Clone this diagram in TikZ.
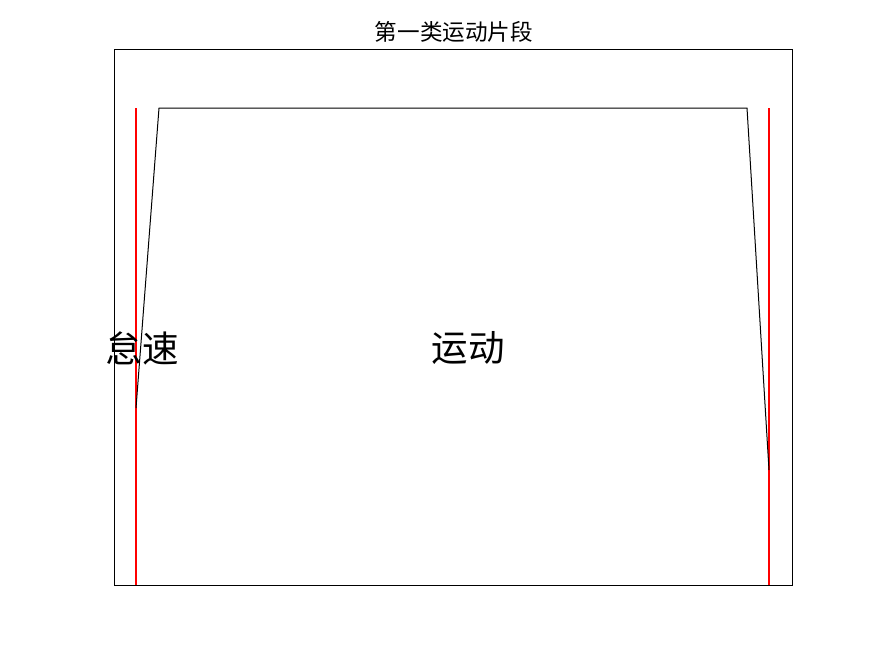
\documentclass[tikz,border=0pt]{standalone}
\usepackage{fontspec}
\newfontfamily\cjk{Noto Sans CJK SC}
\begin{document}
\begin{tikzpicture}[x=1pt,y=-1pt,
  redline/.style={draw=red,line width=2pt},
  blackline/.style={draw=black,line width=1pt},
  lbl/.style={inner sep=0pt,font=\cjk\fontsize{36.5}{37}\selectfont},
  ttl/.style={inner sep=0pt,font=\cjk\fontsize{22.6}{23}\selectfont}]
\useasboundingbox (0,0) rectangle (875,656);
\draw[line width=0.9pt] (114,49) rectangle (792,585);
\node[ttl] (title) at (454,32) {第一类运动片段};
\coordinate (r1a) at (136,108);
\coordinate (r1b) at (136,585);
\coordinate (r2a) at (769,108);
\coordinate (r2b) at (769,585);
\draw[redline] (r1a) -- (r1b);
\draw[redline] (r2a) -- (r2b);
\coordinate (p1) at (136,408);
\coordinate (p2) at (159,108);
\coordinate (p3) at (747,108);
\coordinate (p4) at (769,470);
\draw[blackline] (p1) -- (p2) -- (p3) -- (p4);
\node[lbl] (idle) at (142,348) {怠速};
\node[lbl] (move) at (468,348) {运动};
\end{tikzpicture}
\end{document}
